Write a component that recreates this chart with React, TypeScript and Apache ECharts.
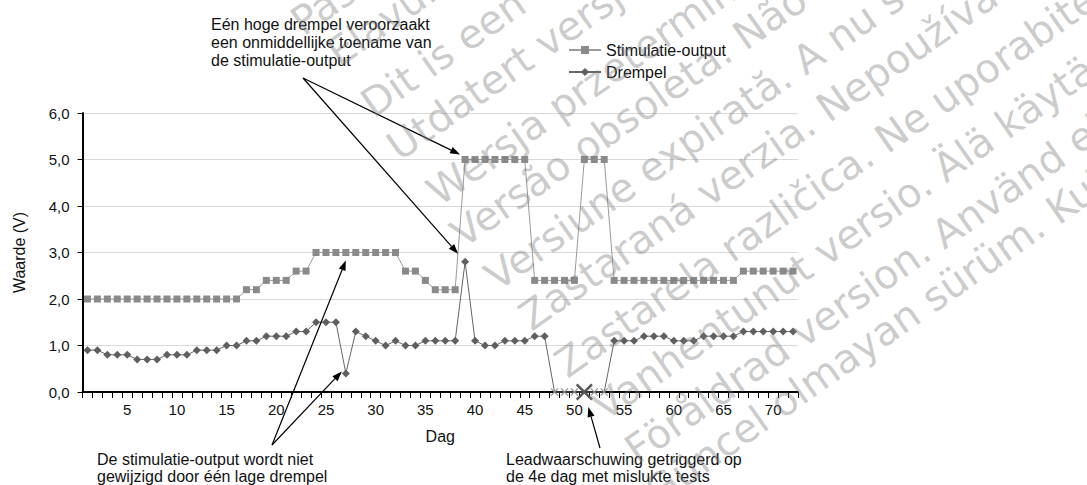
import React, { useEffect, useRef } from "react";
import * as echarts from "echarts";

// ---------- data ----------
const days: string[] = Array.from({ length: 72 }, (_, i) => String(i + 1));

const stimulatieOutput: number[] = [
  2.0, 2.0, 2.0, 2.0, 2.0, 2.0, 2.0, 2.0, 2.0, 2.0, 2.0, 2.0, 2.0, 2.0, 2.0, 2.0,
  2.2, 2.2, 2.4, 2.4, 2.4, 2.6, 2.6,
  3.0, 3.0, 3.0, 3.0, 3.0, 3.0, 3.0, 3.0, 3.0,
  2.6, 2.6, 2.4, 2.2, 2.2, 2.2,
  5.0, 5.0, 5.0, 5.0, 5.0, 5.0, 5.0,
  2.4, 2.4, 2.4, 2.4, 2.4,
  5.0, 5.0, 5.0,
  2.4, 2.4, 2.4, 2.4, 2.4, 2.4, 2.4, 2.4, 2.4, 2.4, 2.4, 2.4, 2.4,
  2.6, 2.6, 2.6, 2.6, 2.6, 2.6,
];

const drempel: number[] = [
  0.9, 0.9, 0.8, 0.8, 0.8, 0.7, 0.7, 0.7, 0.8, 0.8, 0.8, 0.9, 0.9, 0.9, 1.0, 1.0,
  1.1, 1.1, 1.2, 1.2, 1.2, 1.3, 1.3, 1.5, 1.5, 1.5, 0.4, 1.3, 1.2, 1.1, 1.0, 1.1,
  1.0, 1.0, 1.1, 1.1, 1.1, 1.1, 2.8, 1.1, 1.0, 1.0, 1.1, 1.1, 1.1, 1.2, 1.2,
  0, 0, 0, 0, 0, 0,
  1.1, 1.1, 1.1, 1.2, 1.2, 1.2, 1.1, 1.1, 1.1, 1.2, 1.2, 1.2, 1.2,
  1.3, 1.3, 1.3, 1.3, 1.3, 1.3,
];

const failedTestDays: number[] = [48, 49, 50, 51, 52, 53];
const leadWarningDay = 51;

const seriesNames: string[] = ["Stimulatie-output", "Drempel"];

const noteHigh: string[] = [
  "Eén hoge drempel veroorzaakt",
  "een onmiddellijke toename van",
  "de stimulatie-output",
];
const noteLow: string[] = [
  "De stimulatie-output wordt niet",
  "gewijzigd door één lage drempel",
];
const noteLead: string[] = [
  "Leadwaarschuwing getriggerd op",
  "de 4e dag met mislukte tests",
];

const watermarkLines: string[] = [
  "Pasenusi versija. Nenaudokite.",
  "Elavult verzió. Ne használja!",
  "Dit is een verouderde versie. Niet gebruiken.",
  "Utdatert versjon. Skal ikke brukes.",
  "Wersja przeterminowana. Nie używać.",
  "Versão obsoleta. Não utilize.",
  "Versiune expirată. A nu se utiliza.",
  "Zastaraná verzia. Nepoužívať.",
  "Zastarela različica. Ne uporabite.",
  "Vanhentunut versio. Älä käytä.",
  "Föråldrad version. Använd ej.",
  "Güncel olmayan sürüm. Kullanmayın.",
];

// ---------- styling ----------
const FONT = '"Liberation Sans", Arial, Helvetica, sans-serif';
const X_PATH =
  "path://M0,2L2,0L10,8L18,0L20,2L12,10L20,18L18,20L10,12L2,20L0,18L8,10Z";

const watermarkStarts: number[][] = [
  [302, 35], [338, 66], [372, 117], [398, 160], [438, 205], [462, 247],
  [496, 290], [530, 330], [566, 377], [604, 420], [636, 463], [656, 505],
];

function arrow(x1: number, y1: number, x2: number, y2: number) {
  const ang = Math.atan2(y2 - y1, x2 - x1);
  const L = 10;
  const W = 3.6;
  const bx = x2 - L * Math.cos(ang);
  const by = y2 - L * Math.sin(ang);
  const p1 = [bx + W * Math.sin(ang), by - W * Math.cos(ang)];
  const p2 = [bx - W * Math.sin(ang), by + W * Math.cos(ang)];
  return [
    {
      type: "line",
      shape: { x1, y1, x2: bx, y2: by },
      style: { stroke: "#000", lineWidth: 1.2 },
      z: 50,
    },
    {
      type: "polygon",
      shape: { points: [[x2, y2], p1, p2] },
      style: { fill: "#000" },
      z: 50,
    },
  ];
}

function textBlock(lines: string[], x: number, yFirstMiddle: number, step: number) {
  return lines.map((t, i) => ({
    type: "text",
    x,
    y: yFirstMiddle + i * step,
    style: {
      text: t,
      fill: "#111",
      font: `16px ${FONT}`,
      textAlign: "left",
      textVerticalAlign: "middle",
    },
    z: 50,
  }));
}

export default function App() {
  const ref = useRef<HTMLDivElement>(null);

  useEffect(() => {
    const chart = echarts.init(ref.current!, null, { renderer: "svg" });

    const drempelData = drempel.map((v, i) => {
      const day = i + 1;
      if (day === leadWarningDay) {
        return { value: v, symbol: X_PATH, symbolSize: 17, itemStyle: { color: "#555" } };
      }
      if (failedTestDays.includes(day)) {
        return { value: v, symbol: X_PATH, symbolSize: 8, itemStyle: { color: "#8f8f8f" } };
      }
      return v;
    });

    chart.setOption({
      animation: false,
      backgroundColor: "#fff",
      textStyle: { fontFamily: FONT },
      grid: { left: 82.5, right: 289, top: 113, bottom: 93, containLabel: false },
      legend: {
        data: seriesNames,
        orient: "vertical",
        left: 563,
        top: 37,
        itemWidth: 32,
        itemHeight: 10,
        itemGap: 6,
        textStyle: { fontSize: 16, color: "#111", fontFamily: FONT },
      },
      xAxis: {
        type: "category",
        data: days,
        boundaryGap: true,
        name: "Dag",
        nameLocation: "middle",
        nameGap: 36,
        nameTextStyle: { fontSize: 16, color: "#111", fontFamily: FONT },
        axisLine: { lineStyle: { color: "#000", width: 2 } },
        axisTick: { show: true, interval: 0, length: 6, lineStyle: { color: "#000", width: 1 } },
        axisLabel: {
          interval: (i: number) => (i + 1) % 5 === 0,
          fontSize: 15,
          color: "#111",
          margin: 10,
          fontFamily: FONT,
        },
        splitLine: { show: false },
      },
      yAxis: {
        type: "value",
        min: 0,
        max: 6,
        interval: 1,
        name: "Waarde (V)",
        nameLocation: "middle",
        nameRotate: 90,
        nameGap: 55,
        nameTextStyle: { fontSize: 16, color: "#111", fontFamily: FONT },
        axisLine: { show: true, lineStyle: { color: "#000", width: 2 } },
        axisTick: { show: true, length: 5, lineStyle: { color: "#000", width: 1 } },
        axisLabel: {
          formatter: (v: number) => v.toFixed(1).replace(".", ","),
          fontSize: 15,
          color: "#111",
          margin: 13,
          fontFamily: FONT,
        },
        splitLine: { show: true, lineStyle: { color: "#d9d9d9", width: 1 } },
      },
      series: [
        {
          name: seriesNames[0],
          type: "line",
          data: stimulatieOutput,
          symbol: "rect",
          symbolSize: 7,
          showAllSymbol: true,
          itemStyle: { color: "#8a8a8a" },
          lineStyle: { color: "#9a9a9a", width: 1 },
          z: 3,
        },
        {
          name: seriesNames[1],
          type: "line",
          data: drempelData,
          symbol: "diamond",
          symbolSize: 8,
          showAllSymbol: true,
          clip: false,
          itemStyle: { color: "#5f5f5f" },
          lineStyle: { color: "#666", width: 1 },
          z: 4,
        },
      ],
    });

    const px = (seriesIndex: number, day: number) => {
      const v = seriesIndex === 0 ? stimulatieOutput[day - 1] : drempel[day - 1];
      return chart.convertToPixel({ seriesIndex }, [day - 1, v]) as number[];
    };

    const highStim = px(0, 39);
    const highDrempel = px(1, 39);
    const lowStim = px(0, 27);
    const lowDrempel = px(1, 27);
    const leadPt = px(1, leadWarningDay);

    const graphics: any[] = [
      ...textBlock(noteHigh, 211, 24.5, 18),
      ...textBlock(noteLow, 97, 459, 17),
      ...textBlock(noteLead, 506, 459, 17),
      ...arrow(303, 78, highStim[0] - 5, highStim[1] - 5),
      ...arrow(303, 78, highDrempel[0] - 7, highDrempel[1] - 8),
      ...arrow(272, 445, lowStim[0], lowStim[1] + 8),
      ...arrow(272, 445, lowDrempel[0] - 4, lowDrempel[1] - 2),
      ...arrow(600, 448, leadPt[0] + 4, leadPt[1] + 15),
      ...watermarkLines.map((t, i) => ({
        type: "text",
        x: watermarkStarts[i][0] + 5,
        y: watermarkStarts[i][1] + 7,
        rotation: (35 * Math.PI) / 180,
        style: {
          text: t,
          fill: "rgba(120,120,120,0.38)",
          font: `40px "DejaVu Sans", Verdana, sans-serif`,
          textAlign: "left",
          textVerticalAlign: "bottom",
        },
        silent: true,
        z: 100,
      })),
    ];

    chart.setOption({ graphic: graphics });

    return () => chart.dispose();
  }, []);

  return (
    <div
      ref={ref}
      style={{ position: "absolute", left: 0, top: 0, width: 1087, height: 485 }}
    />
  );
}
